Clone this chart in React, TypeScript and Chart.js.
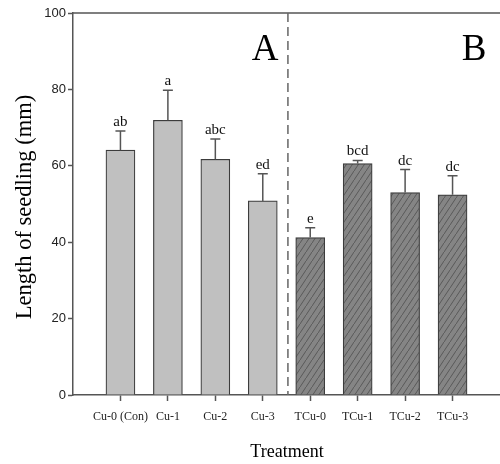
import React, { useEffect, useRef } from "react";
import { Chart, registerables } from "chart.js";

Chart.register(...registerables);

const categories = ["Cu-0 (Con)", "Cu-1", "Cu-2", "Cu-3", "TCu-0", "TCu-1", "TCu-2", "TCu-3"];
const means = [64.1, 71.9, 61.7, 50.8, 41.2, 60.6, 53.0, 52.4];
const errors = [5.0, 7.9, 5.3, 7.1, 2.6, 0.8, 6.0, 5.0];
const letters = ["ab", "a", "abc", "ed", "e", "bcd", "dc", "dc"];
const groups = ["A", "A", "A", "A", "B", "B", "B", "B"];
const yTicks = [0, 20, 40, 60, 80, 100];

const SERIF = "'Liberation Serif', 'Times New Roman', serif";
const SANS = "'Liberation Sans', Arial, sans-serif";

function makeHatch(): CanvasPattern | string {
  const w = 6;
  const h = 9;
  const c = document.createElement("canvas");
  c.width = w;
  c.height = h;
  const g = c.getContext("2d");
  if (!g) return "#808080";
  g.fillStyle = "#858585";
  g.fillRect(0, 0, w, h);
  g.strokeStyle = "#555555";
  g.lineWidth = 0.9;
  g.beginPath();
  for (const [ox, oy] of [[0, 0], [-w, h], [w, -h]]) {
    g.moveTo(ox, oy + h);
    g.lineTo(ox + w, oy);
  }
  g.stroke();
  const p = g.createPattern(c, "repeat");
  return p || "#808080";
}

export default function App() {
  const ref = useRef<HTMLCanvasElement | null>(null);

  useEffect(() => {
    const canvas = ref.current;
    if (!canvas) return;
    const hatch = makeHatch();
    const labels = ["", ...categories, ""];
    const data = [null, ...means, null];
    const bg = [null, ...groups.map((g) => (g === "A" ? "#c0c0c0" : hatch)), null];

    const overlay = {
      id: "overlay",
      afterDatasetsDraw(chart: any) {
        const ctx = chart.ctx;
        const xs = chart.scales.x;
        const ys = chart.scales.y;
        const area = chart.chartArea;
        ctx.save();
        // top border
        ctx.strokeStyle = "#555";
        ctx.lineWidth = 1.5;
        ctx.beginPath();
        ctx.moveTo(area.left, area.top);
        ctx.lineTo(area.right, area.top);
        ctx.stroke();
        // dashed divider
        const dx = xs.getPixelForValue(4.53);
        ctx.setLineDash([9, 5]);
        ctx.strokeStyle = "#666";
        ctx.lineWidth = 1.5;
        ctx.beginPath();
        ctx.moveTo(dx, area.top);
        ctx.lineTo(dx, area.bottom);
        ctx.stroke();
        ctx.setLineDash([]);
        // error bars and letters
        const meta = chart.getDatasetMeta(0);
        means.forEach((m, i) => {
          const el = meta.data[i + 1];
          if (!el) return;
          const x = el.x;
          const y0 = ys.getPixelForValue(m);
          const y1 = ys.getPixelForValue(m + errors[i]);
          ctx.strokeStyle = "#555";
          ctx.lineWidth = 1.5;
          ctx.beginPath();
          ctx.moveTo(x, y0);
          ctx.lineTo(x, y1);
          ctx.moveTo(x - 5, y1);
          ctx.lineTo(x + 5, y1);
          ctx.stroke();
          ctx.fillStyle = "#111";
          ctx.font = `15px ${SERIF}`;
          ctx.textAlign = "center";
          ctx.textBaseline = "alphabetic";
          ctx.fillText(letters[i], x, y1 - 5);
        });
        // panel letters
        ctx.fillStyle = "#000";
        ctx.font = `37px ${SERIF}`;
        ctx.textAlign = "center";
        ctx.fillText("A", 265, 60);
        ctx.fillText("B", 474, 60);
        // axis titles
        ctx.font = `18px ${SERIF}`;
        ctx.textBaseline = "middle";
        ctx.fillText("Treatment", 287, 452);
        ctx.translate(25, 207);
        ctx.rotate(-Math.PI / 2);
        ctx.font = `22.5px ${SERIF}`;
        ctx.fillText("Length of seedling (mm)", 0, 0);
        ctx.restore();
      },
    };

    const chart = new Chart(canvas, {
      type: "bar",
      data: {
        labels,
        datasets: [
          {
            data: data as any,
            backgroundColor: bg as any,
            borderColor: "#3c3c3c",
            borderWidth: 1.2,
            barThickness: 29,
          },
        ],
      },
      options: {
        responsive: false,
        animation: false,
        layout: { padding: { top: 13, left: 0, right: 0, bottom: 0 } },
        plugins: { legend: { display: false }, tooltip: { enabled: false } },
        scales: {
          x: {
            type: "category",
            offset: false,
            grid: {
              display: true,
              offset: false,
              drawOnChartArea: false,
              tickLength: 6,
              tickColor: (c: any) => (c.index === 0 || c.index === 9 ? "rgba(0,0,0,0)" : "#555"),
              tickWidth: 1.5,
            },
            border: { color: "#555", width: 1.5 },
            ticks: {
              autoSkip: false,
              maxRotation: 0,
              padding: 9,
              color: "#222",
              font: { family: SERIF, size: 12 },
            },
            afterFit: (s: any) => {
              s.height = 69;
              s.paddingLeft = 0;
              s.paddingRight = 0;
            },
          },
          y: {
            min: 0,
            max: 100,
            afterBuildTicks: (s: any) => {
              s.ticks = yTicks.map((v) => ({ value: v }));
            },
            grid: {
              display: true,
              drawOnChartArea: false,
              tickLength: 5,
              tickColor: "#555",
              tickWidth: 1.5,
            },
            border: { color: "#555", width: 1.5 },
            ticks: {
              padding: 2,
              color: "#222",
              font: { family: SANS, size: 13 },
            },
            afterFit: (s: any) => {
              s.width = 73;
              s.paddingTop = 0;
              s.paddingBottom = 0;
            },
          },
        },
      },
      plugins: [overlay],
    });
    return () => chart.destroy();
  }, []);

  return (
    <div style={{ position: "fixed", left: 0, top: 0, width: 500, height: 464, background: "#fff" }}>
      <canvas ref={ref} width={500} height={464} style={{ width: 500, height: 464 }} />
    </div>
  );
}
